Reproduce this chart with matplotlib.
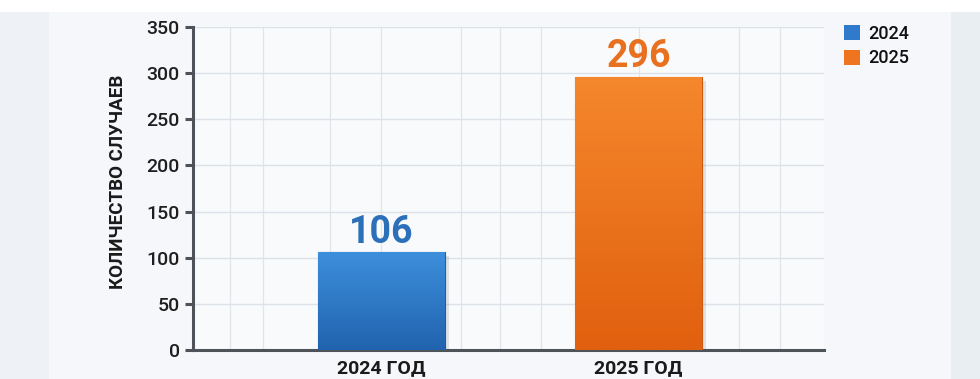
import numpy as np
import matplotlib
matplotlib.use("Agg")
import matplotlib.pyplot as plt
import matplotlib.patheffects as pe
from matplotlib.patches import Rectangle

# данные
categories = ["2024 ГОД", "2025 ГОД"]
series_names = ["2024", "2025"]
values = [106, 296]
yticks = [0, 50, 100, 150, 200, 250, 300, 350]

colors = ["#2f7acb", "#ee7420"]
top_colors = ["#3d8fdc", "#f5872c"]
bottom_colors = ["#2163ae", "#e1600f"]
edge_colors = ["#1f5ea6", "#d05810"]
label_colors = ["#2b70b9", "#e8701e"]

plt.rcParams["font.family"] = ["Roboto", "DejaVu Sans"]

fig = plt.figure(figsize=(9.8, 3.79), dpi=100, facecolor="#f2f5f8")

# фон: белая полоса сверху, боковые полосы
fig.patches.append(Rectangle((0, 0.968), 1, 0.032, transform=fig.transFigure,
                             facecolor="white", edgecolor="none", zorder=-5))
fig.patches.append(Rectangle((0, 0), 0.05, 0.968, transform=fig.transFigure,
                             facecolor="#eef2f6", edgecolor="none", zorder=-5))
fig.patches.append(Rectangle((0.970, 0), 0.03, 0.968, transform=fig.transFigure,
                             facecolor="#e9eef3", edgecolor="none", zorder=-5))
fig.patches.append(Rectangle((0.05, 0), 0.92, 0.968, transform=fig.transFigure,
                             facecolor="#f5f7fa", edgecolor="none", zorder=-5))

ax = fig.add_axes([0.197, 0.0765, 0.644, 0.8523])
ax.set_facecolor("#f8fafc")

x = np.arange(len(categories))
width = 0.494
bars = ax.bar(x, values, width=width, color=colors, edgecolor=edge_colors,
              linewidth=0.8, zorder=3)
for b in bars:
    b.set_path_effects([pe.SimplePatchShadow(offset=(3, -3), alpha=0.16, shadow_rgbFace="#5a6470"),
                        pe.Normal()])

# градиент на столбцах
for i, b in enumerate(bars):
    c1 = np.array(matplotlib.colors.to_rgb(top_colors[i]))
    c2 = np.array(matplotlib.colors.to_rgb(bottom_colors[i]))
    t = np.linspace(0, 1, 64)[:, None]
    grad = (c1 * (1 - t) + c2 * t)[:, None, :]
    im = ax.imshow(grad, extent=(b.get_x(), b.get_x() + b.get_width(), 0, b.get_height()),
                   aspect="auto", zorder=3.5, interpolation="bilinear")
    im.set_clip_path(b)

# подписи значений
for i, v in enumerate(values):
    ax.annotate(str(v), (x[i], v), xytext=(0, 6.8), textcoords="offset points",
                ha="center", va="baseline", fontsize=27, fontweight="bold",
                color=label_colors[i], zorder=5)

ax.set_xlim(-0.733, 1.722)
ax.set_ylim(0, 350)
ax.set_yticks(yticks)
ax.set_xticks(x)
ax.set_xticklabels(categories, fontsize=14, fontweight="bold", color="#1a1a1a")
ax.tick_params(axis="x", length=0, pad=6.5)
ax.tick_params(axis="y", length=6, width=2.2, color="#4d5359", pad=3.6,
               labelsize=14, labelcolor="#1e1e1e")
for lbl in ax.get_yticklabels():
    lbl.set_fontweight("medium")

# сетка
ax.set_axisbelow(True)
ax.grid(axis="y", color="#dde2e8", linewidth=1.0, zorder=0)
for gx in [-0.59, -0.46, -0.2, 0.0, 0.31, 0.46, 0.62, 1.0, 1.39, 1.55]:
    ax.axvline(gx, color="#e1e5ea", linewidth=0.9, zorder=0)

for s in ["top", "right"]:
    ax.spines[s].set_visible(False)
for s in ["left", "bottom"]:
    ax.spines[s].set_color("#4d5359")
    ax.spines[s].set_linewidth(2.2)

ax.set_ylabel("КОЛИЧЕСТВО СЛУЧАЕВ", fontsize=13.5, fontweight="bold", color="#1a1a1a")
ax.yaxis.set_label_coords(-0.105, 0.52)

handles = [Rectangle((0, 0), 1, 1, facecolor=c, edgecolor="none") for c in colors]
leg = fig.legend(handles, series_names, loc="upper left", bbox_to_anchor=(0.861, 0.935),
                 frameon=False, fontsize=13, handlelength=0.9, handleheight=0.9,
                 handletextpad=0.45, labelspacing=0.38, borderpad=0, borderaxespad=0)
for t in leg.get_texts():
    t.set_fontweight("medium")
    t.set_color("#111111")

fig.savefig("out.png", dpi=100, facecolor=fig.get_facecolor())
